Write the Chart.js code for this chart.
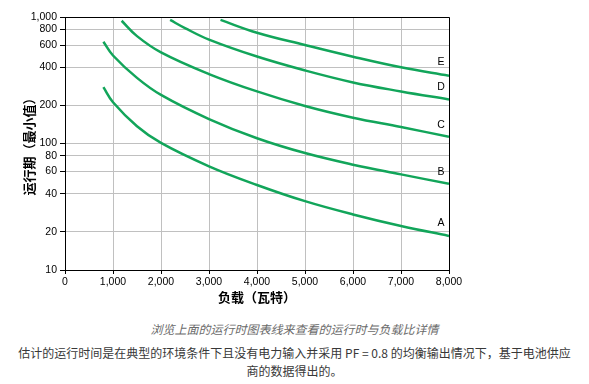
<!DOCTYPE html>
<html>
<head>
<meta charset="utf-8">
<script src="https://cdn.jsdelivr.net/npm/chart.js@4/dist/chart.umd.min.js"></script>
<style>
  html, body { margin: 0; padding: 0; background: #fff; }
  #wrap { position: relative; width: 589px; height: 384px; overflow: hidden; }
  #c { position: absolute; left: 0; top: 0; }
  .caption { position: absolute; left: 0; width: 589px; top: 321px; text-align: center;
    font: italic 12px/16px "Noto Sans CJK SC", sans-serif; color: #6a6a6a; white-space: nowrap; }
  .note { position: absolute; left: 0; width: 589px; top: 344px; text-align: center;
    font: 12px/18px "Noto Sans CJK SC", sans-serif; color: #383838; white-space: nowrap; }
</style>
</head>
<body>
<div id="wrap">
  <canvas id="c" width="589" height="310"></canvas>
  <div class="caption">浏览上面的运行时图表线来查看的运行时与负载比详情</div>
  <div class="note">估计的运行时间是在典型的环境条件下且没有电力输入并采用 PF = 0.8 的均衡输出情况下，基于电池供应<br>商的数据得出的。</div>
</div>
<script>
// ---- data ----
const seriesNames = ['A', 'B', 'C', 'D', 'E'];

const loadA = [800, 1000, 1500, 2000, 3000, 4000, 5000, 6000, 7000, 8000];
const runA  = [279, 212, 137, 101, 66, 47, 35, 27.5, 22.3, 18.6];

const loadB = [800, 1000, 1500, 2000, 3000, 4000, 5000, 6000, 7000, 8000];
const runB  = [638, 496, 330, 242, 156, 110, 84, 68, 57, 48];

const loadC = [1180, 1500, 2000, 3000, 4000, 5000, 6000, 7000, 8000];
const runC  = [934, 706, 525, 354, 258, 198, 160, 135, 113];

const loadD = [2190, 2500, 3000, 4000, 5000, 6000, 7000, 8000];
const runD  = [948, 817, 663, 487, 378, 304, 258, 223];

const loadE = [3240, 4000, 5000, 6000, 7000, 8000];
const runE  = [948, 751, 600, 485, 400, 343];

const labelLoad = [7833, 7833, 7833, 7833, 7833];
const labelRun  = [23.3, 59, 139, 279, 441];

const xTicks = [0, 1000, 2000, 3000, 4000, 5000, 6000, 7000, 8000];
const yTicks = [10, 20, 40, 60, 80, 100, 200, 400, 600, 800, 1000];

const xTitle = '负载（瓦特）';
const yTitle = '运行期（最小值）';

// ---- chart ----
const lineColor = '#12a55a';
const loads = [loadA, loadB, loadC, loadD, loadE];
const runs = [runA, runB, runC, runD, runE];

const datasets = seriesNames.map((name, i) => ({
  label: name,
  data: loads[i].map((x, j) => ({ x: x, y: runs[i][j] })),
  borderColor: lineColor,
  borderWidth: 2.5,
  pointRadius: 0,
  fill: false,
  tension: 0.4
}));

const align = v => Math.round(v - 0.5) + 0.5;

const extrasPlugin = {
  id: 'extras',
  beforeDatasetsDraw(chart) {
    const a = chart.chartArea;
    const ctx = chart.ctx;
    ctx.save();
    ctx.strokeStyle = '#000';
    ctx.lineWidth = 1;
    ctx.beginPath();
    ctx.moveTo(align(a.left), align(a.top));
    ctx.lineTo(align(a.right), align(a.top));
    ctx.lineTo(align(a.right), align(a.bottom));
    ctx.stroke();
    ctx.restore();
  },
  afterDatasetsDraw(chart) {
    const ctx = chart.ctx;
    const x = chart.scales.x, y = chart.scales.y;
    ctx.save();
    ctx.font = '10.5px "Liberation Sans", Arial, sans-serif';
    ctx.fillStyle = '#000';
    ctx.textAlign = 'center';
    ctx.textBaseline = 'middle';
    seriesNames.forEach((n, i) => {
      ctx.fillText(n, x.getPixelForValue(labelLoad[i]), y.getPixelForValue(labelRun[i]));
    });
    ctx.restore();
  }
};

const tickFont = { family: '"Liberation Sans", Arial, sans-serif', size: 10.5 };
const titleFont = { family: '"Noto Sans CJK SC", sans-serif', size: 13, weight: 'bold' };
const fmt = v => Number(v).toLocaleString('en-US');

new Chart(document.getElementById('c'), {
  type: 'line',
  data: { datasets },
  options: {
    responsive: false,
    animation: false,
    devicePixelRatio: 1,
    layout: { padding: { left: 0, right: 140, top: 17, bottom: 0 } },
    plugins: { legend: { display: false }, tooltip: { enabled: false } },
    scales: {
      x: {
        type: 'linear',
        min: 0, max: 8000,
        afterBuildTicks: s => { s.ticks = xTicks.map(v => ({ value: v })); },
        afterFit: s => { s.height = 40; },
        ticks: { font: tickFont, color: '#000', padding: 2, maxRotation: 0, callback: v => fmt(v) },
        grid: { color: '#c0c0c0', tickColor: '#000', tickLength: 4, lineWidth: 1 },
        border: { color: '#000', width: 1 },
        title: { display: true, text: xTitle, font: titleFont, color: '#000', padding: { top: 0, bottom: 5 } }
      },
      y: {
        type: 'logarithmic',
        min: 10, max: 1000,
        afterBuildTicks: s => { s.ticks = yTicks.map(v => ({ value: v })); },
        afterFit: s => { s.width = 65; },
        ticks: { font: tickFont, color: '#000', padding: 3, callback: v => fmt(v) },
        grid: { color: '#c0c0c0', tickColor: '#000', tickLength: 5, lineWidth: 1 },
        border: { color: '#000', width: 1 },
        title: { display: true, text: yTitle, font: titleFont, color: '#000', padding: { top: 21, bottom: 0 } }
      }
    }
  },
  plugins: [extrasPlugin]
});
</script>
</body>
</html>
